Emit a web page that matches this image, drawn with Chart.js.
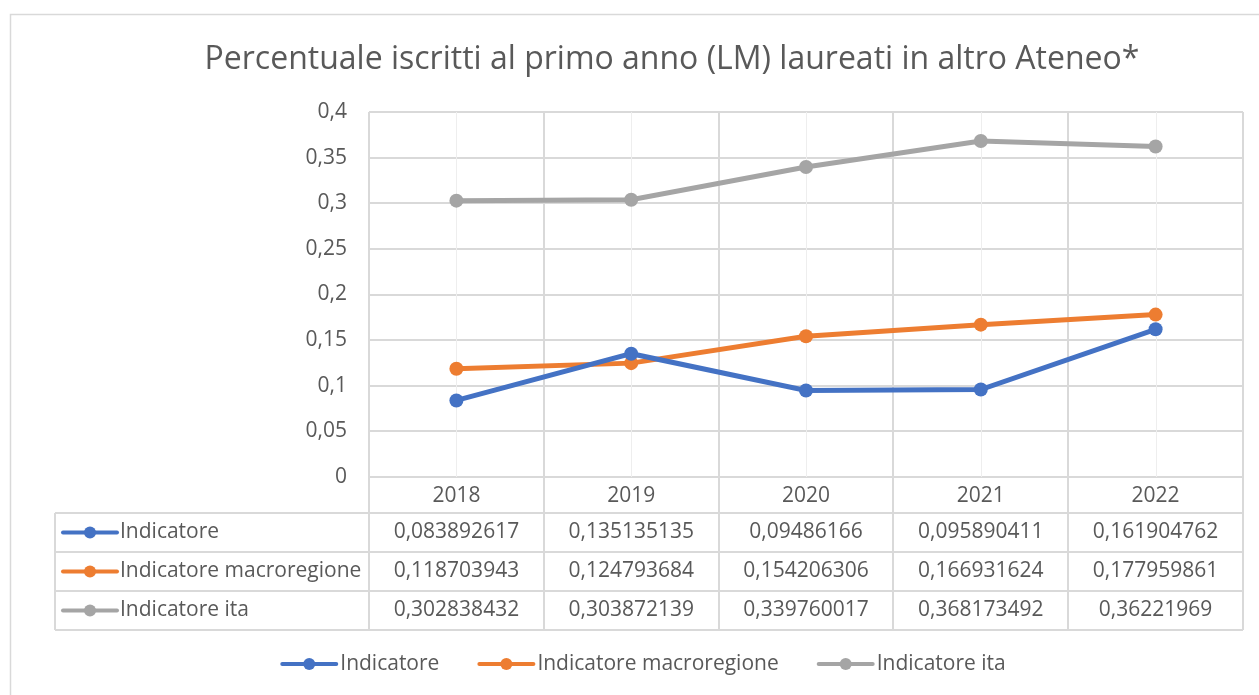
<!DOCTYPE html>
<html>
<head>
<meta charset="utf-8">
<script src="https://cdn.jsdelivr.net/npm/chart.js@4.4.1/dist/chart.umd.min.js"></script>
<style>
  html, body { margin: 0; padding: 0; background: #fff; }
  #wrap { position: relative; width: 1259px; height: 695px; }
</style>
</head>
<body>
<div id="wrap"><canvas id="chart"></canvas></div>
<script>
var years = ['2018', '2019', '2020', '2021', '2022'];
var indicatore = [0.083892617, 0.135135135, 0.09486166, 0.095890411, 0.161904762];
var macroregione = [0.118703943, 0.124793684, 0.154206306, 0.166931624, 0.177959861];
var ita = [0.302838432, 0.303872139, 0.339760017, 0.368173492, 0.36221969];
var seriesNames = ['Indicatore', 'Indicatore macroregione', 'Indicatore ita'];
var seriesColors = ['#4472C4', '#ED7D31', '#A5A5A5'];
var yMin = 0, yMax = 0.4, yStep = 0.05;

var titleText = 'Percentuale iscritti al primo anno (LM) laureati in altro Ateneo*';
var FONT = '"Open Sans", "Noto Sans", sans-serif';
var TEXT = '#595959';
var LINE = '#d9d9d9';

// decimal comma, like the Italian locale
function fmt(v) {
  return String(+v.toFixed(9)).replace('.', ',');
}

// little line-with-dot key used in the table and the legend
function drawKey(ctx, x, y, color) {
  ctx.save();
  ctx.strokeStyle = color;
  ctx.lineWidth = 4;
  ctx.lineCap = 'round';
  ctx.beginPath();
  ctx.moveTo(x + 2, y);
  ctx.lineTo(x + 56, y);
  ctx.stroke();
  ctx.fillStyle = color;
  ctx.beginPath();
  ctx.arc(x + 29, y, 6, 0, Math.PI * 2);
  ctx.fill();
  ctx.restore();
}

var tablePlugin = {
  id: 'tablePlugin',
  beforeDatasetsDraw: function(chart) {
    // light gridlines through the category centres
    var ctx = chart.ctx, xs = chart.scales.x, area = chart.chartArea;
    ctx.save();
    ctx.strokeStyle = '#eeeeee';
    ctx.lineWidth = 1;
    years.forEach(function(y, i) {
      var px = Math.round(xs.getPixelForValue(i)) + 0.5;
      ctx.beginPath();
      ctx.moveTo(px, area.top);
      ctx.lineTo(px, area.bottom);
      ctx.stroke();
    });
    ctx.restore();
  },
  afterDraw: function(chart) {
    var ctx = chart.ctx, xs = chart.scales.x, area = chart.chartArea;
    var w = chart.width;
    ctx.save();

    // outer chart frame
    ctx.strokeStyle = LINE;
    ctx.lineWidth = 1.5;
    ctx.strokeRect(10.5, 14.5, w + 40, 800);

    // title
    ctx.fillStyle = TEXT;
    ctx.font = '32px ' + FONT;
    ctx.textAlign = 'center';
    ctx.textBaseline = 'middle';
    ctx.fillText(titleText, 672, 60);

    // data table under the axis
    var half = (xs.getPixelForValue(1) - xs.getPixelForValue(0)) / 2;
    var rowTop = xs.bottom;
    var rowH = 39;
    var labelLeft = 55;
    var rows = [indicatore, macroregione, ita];
    var bottom = rowTop + rowH * rows.length;

    ctx.strokeStyle = LINE;
    ctx.lineWidth = 2;
    for (var r = 0; r <= rows.length; r++) {
      var yy = Math.round(rowTop + r * rowH);
      ctx.beginPath();
      ctx.moveTo(labelLeft, yy);
      ctx.lineTo(area.right, yy);
      ctx.stroke();
    }
    ctx.beginPath();
    ctx.moveTo(labelLeft, rowTop);
    ctx.lineTo(labelLeft, bottom);
    ctx.stroke();
    for (var c = 0; c <= years.length; c++) {
      var xx = Math.round(xs.getPixelForValue(c) - half);
      ctx.beginPath();
      ctx.moveTo(xx, area.bottom);
      ctx.lineTo(xx, bottom);
      ctx.stroke();
    }

    ctx.font = '21px ' + FONT;
    ctx.fillStyle = TEXT;
    ctx.textBaseline = 'middle';
    rows.forEach(function(vals, r) {
      var cy = rowTop + r * rowH + rowH / 2;
      drawKey(ctx, 61, cy, seriesColors[r]);
      ctx.textAlign = 'left';
      ctx.fillText(seriesNames[r], 120, cy);
      ctx.textAlign = 'center';
      vals.forEach(function(v, i) {
        ctx.fillText(fmt(v), xs.getPixelForValue(i), cy);
      });
    });

    // legend along the bottom
    var gap = 38, keyW = 60;
    var widths = seriesNames.map(function(n) { return keyW + ctx.measureText(n).width; });
    var total = widths.reduce(function(a, b) { return a + b; }, 0) + gap * (widths.length - 1);
    var lx = 643 - total / 2, ly = 664;
    seriesNames.forEach(function(n, i) {
      drawKey(ctx, lx, ly, seriesColors[i]);
      ctx.textAlign = 'left';
      ctx.fillText(n, lx + keyW, ly);
      lx += widths[i] + gap;
    });

    ctx.restore();
  }
};

function makeSet(label, data, color) {
  return {
    label: label,
    data: data,
    borderColor: color,
    backgroundColor: color,
    borderWidth: 5,
    pointRadius: 7,
    pointHoverRadius: 7,
    pointBackgroundColor: color,
    pointBorderWidth: 0,
    tension: 0,
    fill: false
  };
}

var ctx = document.getElementById('chart').getContext('2d');
var chart = new Chart(ctx, {
  type: 'line',
  data: {
    labels: years,
    datasets: [
      makeSet(seriesNames[0], indicatore, seriesColors[0]),
      makeSet(seriesNames[1], macroregione, seriesColors[1]),
      makeSet(seriesNames[2], ita, seriesColors[2])
    ]
  },
  options: {
    responsive: true,
    maintainAspectRatio: false,
    animation: false,
    layout: { padding: { top: 112, bottom: 182, left: 0, right: 16 } },
    plugins: {
      legend: { display: false },
      title: { display: false },
      tooltip: { enabled: false }
    },
    scales: {
      x: {
        offset: true,
        grid: { offset: true, color: LINE, lineWidth: 2, drawTicks: false },
        border: { color: LINE, width: 2 },
        ticks: { color: TEXT, font: { family: FONT, size: 21 }, padding: 6 },
        afterFit: function(scale) { scale.height = 36; }
      },
      y: {
        min: yMin,
        max: yMax,
        grid: { color: LINE, lineWidth: 2, drawTicks: false },
        border: { display: false },
        ticks: {
          stepSize: yStep,
          color: TEXT,
          font: { family: FONT, size: 21 },
          padding: 22,
          callback: function(v) { return fmt(v); }
        },
        afterFit: function(scale) { scale.width = 369; }
      }
    }
  },
  plugins: [tablePlugin]
});
</script>
</body>
</html>
